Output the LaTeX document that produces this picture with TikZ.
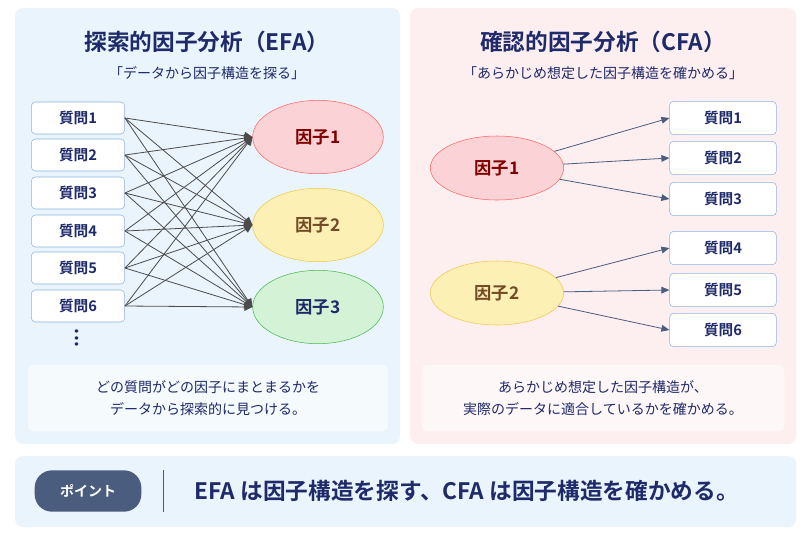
\documentclass[tikz,border=0pt]{standalone}
\usepackage{fontspec}
\setmainfont{Noto Sans CJK JP}[BoldFont={Noto Sans CJK JP Bold}]
\usetikzlibrary{arrows.meta,shapes.geometric}
\definecolor{lbg}{HTML}{EAF4FC}
\definecolor{rbg}{HTML}{FDEEF0}
\definecolor{navy}{HTML}{1F2A6B}
\definecolor{qbd}{HTML}{8DB4E2}
\definecolor{pill}{HTML}{4A5D7E}
\definecolor{yfill}{HTML}{FDF0B4}
\definecolor{ydraw}{HTML}{F0C94A}
\definecolor{rfill}{HTML}{FBD3D6}
\definecolor{gfill}{HTML}{D3F2D6}
\begin{document}
\begin{tikzpicture}[x=0.75pt,y=-0.75pt,
 q/.style={draw=qbd,fill=white,rounded corners=3pt,minimum width=70pt,minimum height=24pt,font=\bfseries\fontsize{11}{13}\selectfont\color{navy}},
 qr/.style={q,minimum width=80pt,minimum height=25pt},
 f/.style={ellipse,minimum width=98pt,minimum height=55pt,font=\bfseries\fontsize{13}{14}\selectfont},
 ar/.style={draw=black!70,line width=0.6pt,-{Triangle[length=6pt,width=6pt]}},
 ar2/.style={draw=pill,line width=0.6pt,-{Triangle[length=6pt,width=5pt]}},
 note/.style={fill=white,fill opacity=0.55,text opacity=1,rounded corners=4pt,align=center,font=\fontsize{10.5}{17}\selectfont\color{navy}}]
\useasboundingbox (0,0) rectangle (810,540);
\fill[white] (0,0) rectangle (810,540);
\fill[lbg,rounded corners=6pt] (15,8) rectangle (400,444);
\fill[rbg,rounded corners=6pt] (410,8) rectangle (796,444);
\node[font=\bfseries\fontsize{17}{20}\selectfont,text=navy] (t1) at (207,42) {探索的因子分析（EFA）};
\node[font=\fontsize{10.5}{12}\selectfont,text=navy] (s1) at (207,73) {「データから因子構造を探る」};
\node[font=\bfseries\fontsize{17}{20}\selectfont,text=navy] (t2) at (603,42) {確認的因子分析（CFA）};
\node[font=\fontsize{10.5}{12}\selectfont,text=navy] (s2) at (603,73) {「あらかじめ想定した因子構造を確かめる」};
% EFA
\foreach \i/\y in {1/118,2/155,3/193,4/231,5/268,6/306}{\node[q] (e\i) at (78,\y) {質問\i};}
\node[font=\bfseries\fontsize{14}{14}\selectfont,text=navy] (dots) at (77,338) {\rotatebox{90}{...}};
\node[f,draw=red!60,fill=rfill,text=red!50!black] (f1) at (318,137) {因子1};
\node[f,draw=ydraw,fill=yfill,text=brown!60!black] (f2) at (318,225) {因子2};
\node[f,draw=green!60!black!70,fill=gfill,text=navy] (f3) at (318,307) {因子3};
\foreach \i in {1,...,6}{\foreach \j in {1,2,3}{\draw[ar] (e\i.east) -- (f\j.west);}}
\node[note,minimum width=270pt,minimum height=50pt] (n1) at (208,398) {どの質問がどの因子にまとまるかを\\データから探索的に見つける。};
% CFA
\node[f,minimum width=100pt,minimum height=48pt,draw=red!60,fill=rfill,text=red!50!black] (g1) at (497,168) {因子1};
\node[f,minimum width=100pt,minimum height=48pt,draw=ydraw,fill=yfill,text=brown!60!black] (g2) at (497,293) {因子2};
\foreach \i/\y in {1/118,2/158,3/199,4/248,5/290,6/330}{\node[qr] (c\i) at (723,\y) {質問\i};}
\foreach \i in {1,2,3}{\draw[ar2] (g1) -- (c\i.west);}
\foreach \i in {4,5,6}{\draw[ar2] (g2) -- (c\i.west);}
\node[note,minimum width=272pt,minimum height=50pt] (n2) at (603,398) {あらかじめ想定した因子構造が、\\実際のデータに適合しているかを確かめる。};
% bottom
\fill[lbg,rounded corners=6pt] (15,456) rectangle (796,527);
\node[fill=pill,rounded corners=13pt,minimum width=80pt,minimum height=31pt,text=white,font=\bfseries\fontsize{10.5}{12}\selectfont] (pt) at (88,491) {ポイント};
\coordinate (d1) at (163,470); \coordinate (d2) at (163,512);
\draw[blue!40!gray,line width=0.5pt] (d1) -- (d2);
\node[anchor=west,font=\bfseries\fontsize{17}{20}\selectfont,text=navy] (msg) at (190,491) {EFA は因子構造を探す、CFA は因子構造を確かめる。};
\end{tikzpicture}
\end{document}
